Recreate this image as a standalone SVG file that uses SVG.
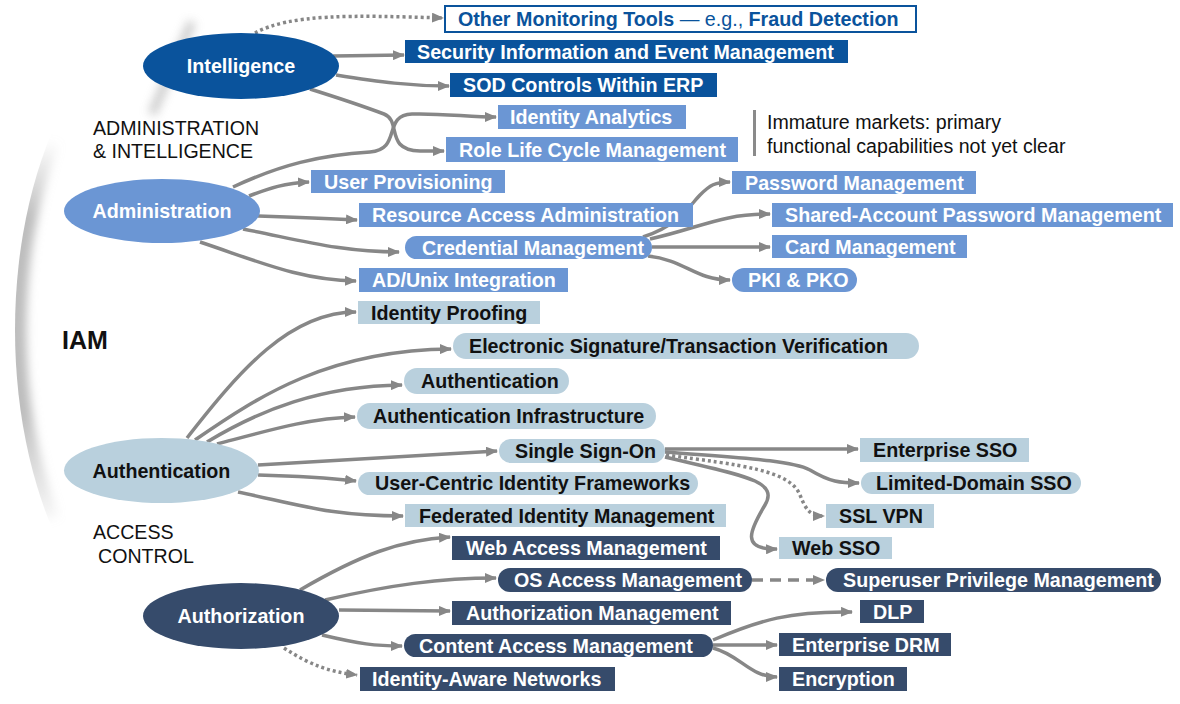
<svg xmlns="http://www.w3.org/2000/svg" width="1180" height="704" viewBox="0 0 1180 704">
<style>
.t{font-family:"Liberation Sans",Arial,sans-serif;font-size:19.7px;font-weight:bold}
.n{font-family:"Liberation Sans",Arial,sans-serif;font-size:19.6px;fill:#111}
.w{fill:#fff}.k{fill:#111}
.int{fill:#0a539c}.adm{fill:#6b96d4}.an{fill:#b9d0dd}.az{fill:#364b6b}
.c{fill:none;stroke:#878787;stroke-width:3.5}
.dot{stroke-dasharray:3 3}
.dash{stroke-dasharray:11 7}
</style>
<defs>
<marker id="ah" markerUnits="userSpaceOnUse" viewBox="0 0 12 10" refX="11" refY="5" markerWidth="12" markerHeight="10" orient="auto"><path d="M0,0 L12,5 L0,10 z" fill="#878787"/></marker>
<filter id="bl" x="-50%" y="-50%" width="200%" height="200%"><feGaussianBlur stdDeviation="5"/></filter>
<linearGradient id="fadev" gradientUnits="userSpaceOnUse" x1="0" y1="140" x2="0" y2="530">
<stop offset="0" stop-color="#bdbdbd" stop-opacity="0"/><stop offset="0.2" stop-color="#bdbdbd" stop-opacity="1"/><stop offset="0.7" stop-color="#bdbdbd" stop-opacity="1"/><stop offset="1" stop-color="#bdbdbd" stop-opacity="0"/>
</linearGradient>
<clipPath id="inner"><ellipse cx="200" cy="330" rx="185" ry="330"/></clipPath>
</defs>
<rect width="1180" height="704" fill="#fff"/>
<g id="iam-ring">
<g clip-path="url(#inner)"><path d="M49,140 A185,330 0 0 0 49,520" fill="none" stroke="url(#fadev)" stroke-width="22" filter="url(#bl)"/></g>
<path d="M192,22 L152,114" stroke="#c8c8c8" stroke-width="9" fill="none" filter="url(#bl)" opacity="0.9"/>
</g>
<g id="labels">
<text class="n" x="93" y="135">ADMINISTRATION</text>
<text class="n" x="93" y="158">&amp; INTELLIGENCE</text>
<text class="t k" x="62" y="349" style="font-size:25px">IAM</text>
<text class="n" x="93" y="539">ACCESS</text>
<text class="n" x="98" y="563">CONTROL</text>
<rect x="753" y="110" width="3" height="46" fill="#8a8a8a"/>
<text class="n" x="767" y="129">Immature markets: primary</text>
<text class="n" x="767" y="153">functional capabilities not yet clear</text>
</g>
<g id="connectors">
<path class="c dot" d="M255,33 C290,14 350,15 443,18" marker-end="url(#ah)"/>
<path class="c" d="M333,56 L404,55" marker-end="url(#ah)"/>
<path class="c" d="M336,75 C380,82 410,86 449,86" marker-end="url(#ah)"/>
<path class="c" d="M310,89 C345,100 368,108 384,114 C402,121 384,150 420,151 L444,151" marker-end="url(#ah)"/>
<path class="c" d="M233,187 C280,165 320,155 370,152 C402,150 382,115 412,114 C440,113 470,117 496,117" marker-end="url(#ah)"/>
<path class="c" d="M249,196 C270,188 285,183 309,182" marker-end="url(#ah)"/>
<path class="c" d="M258,216 C290,217 320,218 357,220" marker-end="url(#ah)"/>
<path class="c" d="M243,229 C300,240 340,252 399,252" marker-end="url(#ah)"/>
<path class="c" d="M200,242 C260,262 300,280 356,281" marker-end="url(#ah)"/>
<path class="c" d="M643,237 C680,225 690,205 700,195 C710,185 715,182 730,182" marker-end="url(#ah)"/>
<path class="c" d="M650,239 C700,228 720,214 770,214" marker-end="url(#ah)"/>
<path class="c" d="M652,247 L770,247" marker-end="url(#ah)"/>
<path class="c" d="M648,256 C685,260 695,280 730,280" marker-end="url(#ah)"/>
<path class="c" d="M187,438 C240,370 290,312 356,312" marker-end="url(#ah)"/>
<path class="c" d="M195,440 C260,395 330,350 451,349" marker-end="url(#ah)"/>
<path class="c" d="M207,442 C260,410 320,386 402,385" marker-end="url(#ah)"/>
<path class="c" d="M217,444 C270,430 310,418 355,417" marker-end="url(#ah)"/>
<path class="c" d="M258,465 L497,451" marker-end="url(#ah)"/>
<path class="c" d="M258,475 C300,476 330,478 356,481" marker-end="url(#ah)"/>
<path class="c" d="M238,492 C300,505 330,516 403,516" marker-end="url(#ah)"/>
<path class="c" d="M665,449 L858,449" marker-end="url(#ah)"/>
<path class="c" d="M665,452 C740,458 790,460 810,470 C830,482 840,483 859,483" marker-end="url(#ah)"/>
<path class="c dot" d="M666,455 C740,465 790,470 800,495 C806,510 810,516 824,516" marker-end="url(#ah)"/>
<path class="c" d="M665,457 C740,475 780,480 765,505 C750,530 740,550 777,549" marker-end="url(#ah)"/>
<path class="c" d="M300,590 C360,555 400,540 450,537" marker-end="url(#ah)"/>
<path class="c" d="M325,600 C390,585 440,578 496,578" marker-end="url(#ah)"/>
<path class="c" d="M339,610 L450,611" marker-end="url(#ah)"/>
<path class="c" d="M322,635 C360,644 375,646 402,646" marker-end="url(#ah)"/>
<path class="c dot" d="M284,648 C310,665 330,672 357,675" marker-end="url(#ah)"/>
<path class="c dash" d="M752,580 L824,580" marker-end="url(#ah)"/>
<path class="c" d="M713,640 C760,620 790,611 852,612" marker-end="url(#ah)"/>
<path class="c" d="M713,645 L777,645" marker-end="url(#ah)"/>
<path class="c" d="M713,648 C740,655 750,677 777,677" marker-end="url(#ah)"/>
</g>
<g id="intelligence"><ellipse class="int" cx="241" cy="66" rx="98" ry="33"/><text class="t w" x="241" y="73" text-anchor="middle">Intelligence</text></g>
<g id="administration"><ellipse class="adm" cx="162" cy="211" rx="98" ry="32"/><text class="t w" x="162" y="218" text-anchor="middle">Administration</text></g>
<g id="authentication"><ellipse class="an" cx="161.5" cy="470.5" rx="97.5" ry="32.5"/><text class="t k" x="161.5" y="478" text-anchor="middle">Authentication</text></g>
<g id="authorization"><ellipse class="az" cx="241" cy="616" rx="98" ry="33"/><text class="t w" x="241" y="623" text-anchor="middle">Authorization</text></g>
<g id="other-monitoring"><rect x="445" y="6" width="471" height="26" fill="#fff" stroke="#0a539c" stroke-width="2"/><text class="t" x="458" y="26" fill="#0a539c">Other Monitoring Tools<tspan font-weight="normal"> — e.g., </tspan>Fraud Detection</text></g>
<g id="siem"><rect class="int" x="405" y="40" width="443" height="23"/><text class="t w" x="417" y="59">Security Information and Event Management</text></g>
<g id="sod"><rect class="int" x="450" y="73" width="267" height="24"/><text class="t w" x="463" y="92">SOD Controls Within ERP</text></g>
<g id="identity-analytics"><rect class="adm" x="498" y="105" width="188" height="24"/><text class="t w" x="510" y="124">Identity Analytics</text></g>
<g id="role-lcm"><rect class="adm" x="446" y="137" width="292" height="25"/><text class="t w" x="459" y="157">Role Life Cycle Management</text></g>
<g id="user-provisioning"><rect class="adm" x="311" y="170" width="194" height="23"/><text class="t w" x="324" y="189">User Provisioning</text></g>
<g id="resource-access"><rect class="adm" x="359" y="203" width="334" height="24"/><text class="t w" x="372" y="222">Resource Access Administration</text></g>
<g id="credential"><rect class="adm" x="405" y="236" width="247" height="23" rx="11.5"/><text class="t w" x="422" y="255">Credential Management</text></g>
<g id="ad-unix"><rect class="adm" x="359" y="268" width="209" height="24"/><text class="t w" x="372" y="287">AD/Unix Integration</text></g>
<g id="password"><rect class="adm" x="732" y="171" width="244" height="23"/><text class="t w" x="745" y="190">Password Management</text></g>
<g id="shared-account"><rect class="adm" x="772" y="203" width="401" height="24"/><text class="t w" x="785" y="222">Shared-Account Password Management</text></g>
<g id="card"><rect class="adm" x="772" y="235" width="195" height="23"/><text class="t w" x="785" y="254">Card Management</text></g>
<g id="pki"><rect class="adm" x="732" y="268" width="125" height="24" rx="12"/><text class="t w" x="748" y="287">PKI &amp; PKO</text></g>
<g id="identity-proofing"><rect class="an" x="358" y="301" width="182" height="23"/><text class="t k" x="371" y="320">Identity Proofing</text></g>
<g id="esig"><rect class="an" x="453" y="333" width="466" height="26" rx="13"/><text class="t k" x="469" y="353">Electronic Signature/Transaction Verification</text></g>
<g id="authn-pill"><rect class="an" x="404" y="368" width="165" height="26" rx="13"/><text class="t k" x="421" y="388">Authentication</text></g>
<g id="authn-infra"><rect class="an" x="357" y="403" width="299" height="26" rx="13"/><text class="t k" x="373" y="423">Authentication Infrastructure</text></g>
<g id="sso"><rect class="an" x="499" y="439" width="166" height="24" rx="12"/><text class="t k" x="515" y="458">Single Sign-On</text></g>
<g id="user-centric"><rect class="an" x="358" y="472" width="340" height="23" rx="11.5"/><text class="t k" x="375" y="490">User-Centric Identity Frameworks</text></g>
<g id="federated"><rect class="an" x="405" y="504" width="321" height="23"/><text class="t k" x="419" y="523">Federated Identity Management</text></g>
<g id="enterprise-sso"><rect class="an" x="860" y="438" width="169" height="24"/><text class="t k" x="873" y="457">Enterprise SSO</text></g>
<g id="limited-sso"><rect class="an" x="861" y="472" width="220" height="22" rx="11"/><text class="t k" x="876" y="490">Limited-Domain SSO</text></g>
<g id="ssl-vpn"><rect class="an" x="826" y="504" width="108" height="24"/><text class="t k" x="839" y="523">SSL VPN</text></g>
<g id="web-sso"><rect class="an" x="779" y="537" width="113" height="22"/><text class="t k" x="792" y="555">Web SSO</text></g>
<g id="web-access"><rect class="az" x="452" y="536" width="268" height="24"/><text class="t w" x="466" y="555">Web Access Management</text></g>
<g id="os-access"><rect class="az" x="498" y="568" width="254" height="24" rx="12"/><text class="t w" x="514" y="587">OS Access Management</text></g>
<g id="superuser"><rect class="az" x="826" y="568" width="335" height="24" rx="12"/><text class="t w" x="843" y="587">Superuser Privilege Management</text></g>
<g id="authz-mgmt"><rect class="az" x="452" y="601" width="279" height="24"/><text class="t w" x="466" y="620">Authorization Management</text></g>
<g id="content-access"><rect class="az" x="404" y="634" width="309" height="23" rx="11.5"/><text class="t w" x="419" y="653">Content Access Management</text></g>
<g id="identity-aware"><rect class="az" x="360" y="667" width="255" height="24"/><text class="t w" x="372" y="686">Identity-Aware Networks</text></g>
<g id="dlp"><rect class="az" x="860" y="600" width="64" height="23"/><text class="t w" x="873" y="619">DLP</text></g>
<g id="drm"><rect class="az" x="779" y="633" width="172" height="23"/><text class="t w" x="792" y="652">Enterprise DRM</text></g>
<g id="encryption"><rect class="az" x="779" y="667" width="128" height="24"/><text class="t w" x="792" y="686">Encryption</text></g>
</svg>
